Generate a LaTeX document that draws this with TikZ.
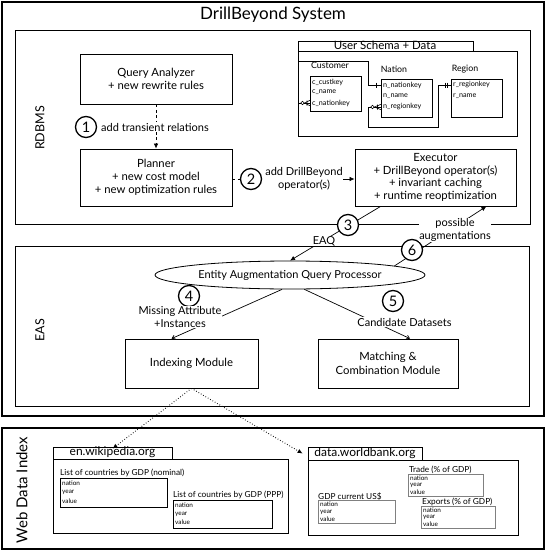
\documentclass[tikz,border=0pt]{standalone}
\usepackage{fontspec}
\setmainfont{Lato}
\usetikzlibrary{arrows.meta,shapes.geometric,fit}
\tikzset{
  frame/.style={draw, line width=1.8pt, inner sep=0pt},
  section/.style={draw, line width=0.9pt, inner sep=0pt},
  box/.style={draw, line width=0.8pt, align=center, inner sep=0pt, font=\fontsize{11.3}{13.3}\selectfont},
  num/.style={circle, draw, line width=1.3pt, fill=white, minimum size=21pt, inner sep=0pt, font=\fontsize{14.5}{14.5}\selectfont},
  lab/.style={fill=white, align=center, inner sep=1pt, font=\fontsize{11}{12.5}\selectfont},
  side/.style={rotate=90, font=\fontsize{12.5}{14}\selectfont},
  tab/.style={draw, line width=0.8pt, inner sep=0pt},
  tabtext/.style={inner sep=0pt, font=\fontsize{11.5}{12}\selectfont},
  ent/.style={draw, line width=0.6pt, inner sep=0pt},
  entname/.style={inner sep=0pt, font=\fontsize{8.8}{9}\selectfont},
  row/.style={anchor=west, inner sep=0pt, font=\fontsize{7.2}{8}\selectfont},
  wrow/.style={anchor=west, inner sep=0pt, font=\fontsize{6.4}{7}\selectfont},
  tblname/.style={anchor=west, inner sep=0pt, font=\fontsize{8.3}{9}\selectfont},
  arr/.style={-{Latex[length=5pt,width=4.5pt]}, line width=0.7pt},
  barb/.style={-{Straight Barb[length=3pt,width=4pt]}, line width=0.7pt},
  rel/.style={line width=0.6pt},
}
\begin{document}
\begin{tikzpicture}[x=1pt,y=-1pt]
\useasboundingbox (0,0) rectangle (547,551);

% ---- frames ----
\node[frame, fit={(2,2) (544,416)}] (sys) {};
\node[frame, fit={(2,428) (544,549)}] (web) {};
\node[section, fit={(15,30) (530,224)}] (rdbms) {};
\node[section, fit={(15,246) (529,406)}] (eas) {};

\node[font=\fontsize{17}{20}\selectfont] (title) at (273,15) {DrillBeyond System};
\node[side] (rdbmsl) at (40,128) {RDBMS};
\node[side] (easl) at (40,330) {EAS};
\node[side, font=\fontsize{15}{17}\selectfont] (webl) at (22,490) {Web Data Index};

% ---- RDBMS ----
\node[box, minimum width=152pt, minimum height=50pt] (qa) at (156,79) {Query Analyzer\\+ new rewrite rules};
\node[box, minimum width=152pt, minimum height=57pt] (pl) at (156,177.5) {Planner\\+ new cost model\\+ new optimization rules};
\node[box, minimum width=161pt, minimum height=57pt, font=\fontsize{11.3}{12.8}\selectfont] (ex) at (435.5,177.5) {Executor\\+ DrillBeyond operator(s)\\+ invariant caching\\+ runtime reoptimization};

% schema
\node[tab, fit={(298,41) (473,51)}] (ustab) {};
\node[tabtext] (ustabt) at (385,45.5) {User Schema + Data};
\node[ent, fit={(298,51) (517,136)}] (schema) {};

\node[entname] (custn) at (330,65) {Customer};
\node[ent, fit={(310,76) (361,111)}] (cust) {};
\node[row] (c1) at (312,82) {c\_custkey};
\node[row] (c2) at (312,92.5) {c\_name};
\node[row] (c3) at (312,103) {c\_nationkey};

\node[entname] (natn) at (394,69) {Nation};
\node[ent, fit={(381,79) (432,117)}] (nat) {};
\node[row] (n1) at (383,85) {n\_nationkey};
\node[row] (n2) at (383,96) {n\_name};
\node[row] (n3) at (383,107) {n\_regionkey};

\node[entname] (regn) at (465,69) {Region};
\node[ent, fit={(451,79) (502,117)}] (reg) {};
\node[row] (r1) at (453,85) {r\_regionkey};
\node[row] (r2) at (453,96) {r\_name};

% relationships
\draw[rel] (cust.west |- c3) -- (298,103) -- (298,61) -- (368,61) -- (368,85) -- (nat.west |- n1);
\draw[rel] (reg.west |- r1) -- (438,85) -- (438,127) -- (368,127) -- (368,107) -- (nat.west |- n3);
% markers
\draw[rel, fill=white] (302.5,103) circle (1.7pt);
\draw[rel] (304.5,103) -- (310,100.3) (304.5,103) -- (310,105.7) (307,100.5) -- (307,105.5);
\draw[rel, fill=white] (372.5,107) circle (1.7pt);
\draw[rel] (374.5,107) -- (381,104.3) (374.5,107) -- (381,109.7) (377.5,104.5) -- (377.5,109.5);
\draw[rel] (376,82.5) -- (376,87.5);
\draw[rel] (445,82.5) -- (445,87.5) (447,82.5) -- (447,87.5);

% step 1
\draw[arr, dashed, dash pattern=on 3pt off 2.5pt] (qa.south) -- (pl.north);
\node[num] (n1c) at (86,127) {1};
\node[lab, anchor=west] (l1) at (100,127) {add transient relations};

% step 2
\node[num] (n2c) at (251,179) {2};
\node[lab, inner sep=0.5pt] (l2) at (304,179) {add DrillBeyond\\operator(s)};
\draw[dashed, line width=0.7pt, dash pattern=on 3pt off 2.5pt] (pl.east |- n2c) -- (n2c.west);
\draw[arr] (l2.east) -- (ex.west |- l2);

% ---- EAS ----
\node[ellipse, draw, line width=0.8pt, minimum width=270pt, minimum height=28pt, inner sep=0pt, font=\fontsize{11}{12}\selectfont] (eaqp) at (290,275) {Entity Augmentation Query Processor};
\node[box, minimum width=133pt, minimum height=49pt] (idx) at (191.5,363.5) {Indexing Module};
\node[box, minimum width=140pt, minimum height=49pt] (mat) at (388,363.5) {Matching \&\\Combination Module};

% step 3
\coordinate (e3) at ([xshift=26pt]ex.south west);
\draw[arr] (e3) -- (eaqp.north);
\node[num] (n3c) at (348,225) {3};
\node[lab, inner sep=0.5pt] (l3) at (324,241) {EAQ};

% step 6
\coordinate (e6) at ([xshift=-30pt]ex.south east);
\draw[arr] (eaqp.5) -- (e6);
\node[num] (n6c) at (412,250) {6};
\node[lab, inner sep=0.5pt] (l6) at (455,230) {possible\\augmentations};

% step 4
\coordinate (i4) at ([xshift=-20pt]idx.north);
\draw[barb] (eaqp.241) -- (i4);
\node[num] (n4c) at (189,296) {4};
\node[lab, inner sep=0.5pt] (l4) at (180,317) {Missing Attribute\\+Instances};

% step 5
\coordinate (m5) at ([xshift=22pt]mat.north);
\draw[barb] (eaqp.-45) -- (m5);
\node[num] (n5c) at (393,301) {5};
\node[lab, inner sep=0.5pt] (l5) at (404.5,322) {Candidate Datasets};

% ---- Web Data Index ----
\node[tab, fit={(53,447) (172,459)}] (wtab) {};
\node[tabtext, font=\fontsize{12}{12}\selectfont] (wtabt) at (112.5,452.5) {en.wikipedia.org};
\node[ent, line width=0.8pt, fit={(53,459) (288,533)}] (wbox) {};
\node[tblname] (t1) at (60,473) {List of countries by GDP (nominal)};
\node[ent, fit={(60,478) (167,507)}] (t1b) {};
\node[wrow] at (62,483) {nation};
\node[wrow] at (62,492) {year};
\node[wrow] at (62,501) {value};
\node[tblname] (t2) at (173,495) {List of countries by GDP (PPP)};
\node[ent, fit={(173,500) (272,528)}] (t2b) {};
\node[wrow] at (175,505) {nation};
\node[wrow] at (175,514) {year};
\node[wrow] at (175,522) {value};

\node[tab, fit={(308,447) (422,460)}] (btab) {};
\node[tabtext, font=\fontsize{12}{12}\selectfont] (btabt) at (365,453) {data.worldbank.org};
\node[ent, line width=0.8pt, fit={(308,460) (518,535)}] (bbox) {};
\node[tblname] (t3) at (409,469.5) {Trade (\% of GDP)};
\node[ent, draw=gray, line width=0.4pt, fit={(408,474) (483,496)}] (t3b) {};
\node[wrow] at (410,478) {nation};
\node[wrow] at (410,485.5) {year};
\node[wrow] at (410,492.5) {value};
\node[tblname] (t4) at (318,496.5) {GDP current US\$};
\node[ent, draw=gray, line width=0.4pt, fit={(318,500) (395,523)}] (t4b) {};
\node[wrow] at (320,504) {nation};
\node[wrow] at (320,512) {year};
\node[wrow] at (320,519) {value};
\node[tblname] (t5) at (422,501.5) {Exports (\% of GDP)};
\node[ent, draw=gray, line width=0.4pt, fit={(421,506) (495,528)}] (t5b) {};
\node[wrow] at (423,510) {nation};
\node[wrow] at (423,517) {year};
\node[wrow] at (423,524) {value};

% dotted connectors
\draw[arr, dotted, line width=0.9pt] (idx.south) -- ([yshift=-2pt]wtab.north);
\draw[arr, dotted, line width=0.9pt] (idx.south) -- ([xshift=-5pt]btab.west);
\end{tikzpicture}
\end{document}
